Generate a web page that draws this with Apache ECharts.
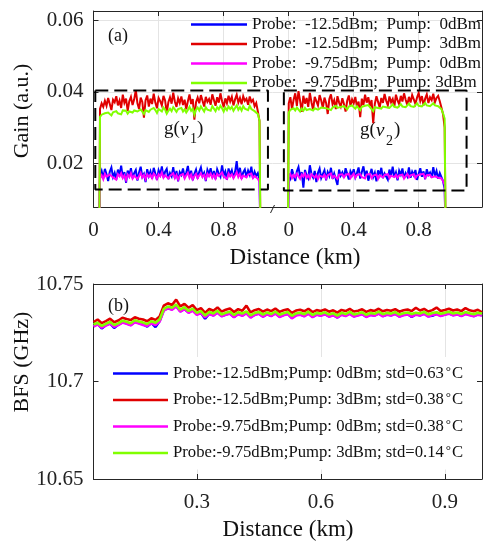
<!DOCTYPE html>
<html><head><meta charset="utf-8">
<script src="https://cdn.jsdelivr.net/npm/echarts@6/dist/echarts.min.js"></script>
<style>html,body{margin:0;padding:0;background:#fff}#c{width:483px;height:544px}</style>
</head><body><div id="c"></div>
<script>
const FONT = '"Liberation Serif", "Times New Roman", serif';
const colors = ['#0000ff', '#e00000', '#ff00ff', '#80ff00'];
const namesA = ['Probe:  -12.5dBm;  Pump:  0dBm', 'Probe:  -12.5dBm;  Pump:  3dBm', 'Probe:  -9.75dBm;  Pump:  0dBm', 'Probe:  -9.75dBm;  Pump: 3dBm'];
const namesB = ['Probe:-12.5dBm;Pump: 0dBm; std=0.63°C', 'Probe:-12.5dBm;Pump: 3dBm; std=0.38°C', 'Probe:-9.75dBm;Pump: 0dBm; std=0.38°C', 'Probe:-9.75dBm;Pump: 3dBm; std=0.14°C'];

// sampling grid (km)
const distSeg1 = Array.from({length: 99}, (_, i) => +(0.04 + 0.01 * i).toFixed(2));
const distSeg2 = Array.from({length: 97}, (_, i) => +(0.00 + 0.01 * i).toFixed(2));
const distB = Array.from({length: 95}, (_, i) => +(0.05 + 0.01 * i).toFixed(2));
const seg1Ends = [0.036, 1.026];
const seg2Ends = [-0.005, 0.966];

// (a) gain, segment 1
const gainBlue1 = [.0165,.0178,.0157,.0184,.0169,.0150,.0176,.0188,.0161,.0173,
.0154,.0182,.0167,.0193,.0159,.0175,.0145,.0179,.0166,.0186,
.0158,.0172,.0181,.0151,.0174,.0190,.0162,.0170,.0147,.0183,
.0164,.0177,.0156,.0187,.0171,.0153,.0180,.0168,.0191,.0160,
.0176,.0184,.0155,.0172,.0163,.0189,.0158,.0178,.0149,.0175,
.0167,.0185,.0159,.0174,.0192,.0161,.0179,.0152,.0170,.0182,
.0157,.0176,.0188,.0164,.0173,.0150,.0181,.0169,.0186,.0160,
.0178,.0155,.0183,.0171,.0162,.0194,.0166,.0177,.0153,.0185,
.0168,.0180,.0159,.0175,.0206,.0163,.0187,.0156,.0174,.0182,
.0161,.0179,.0167,.0190,.0158,.0176,.0164,.0172,.0155];
const gainRed1 = [.0352,.0368,.0358,.0375,.0361,.0383,.0366,.0349,.0378,.0371,
.0388,.0362,.0376,.0355,.0392,.0369,.0381,.0347,.0374,.0386,
.0363,.0379,.0405,.0368,.0352,.0384,.0372,.0328,.0377,.0390,
.0359,.0381,.0366,.0395,.0370,.0354,.0383,.0374,.0362,.0389,
.0376,.0341,.0371,.0385,.0367,.0398,.0373,.0358,.0382,.0369,
.0387,.0363,.0378,.0351,.0374,.0393,.0366,.0380,.0322,.0371,
.0384,.0368,.0391,.0375,.0359,.0386,.0372,.0380,.0364,.0393,
.0377,.0361,.0385,.0370,.0396,.0374,.0357,.0382,.0368,.0389,
.0373,.0386,.0362,.0379,.0392,.0370,.0383,.0365,.0388,.0375,
.0381,.0364,.0387,.0372,.0378,.0360,.0369,.0345,.0318];
const gainMag1 = [.0158,.0166,.0155,.0170,.0162,.0157,.0168,.0173,.0160,.0165,
.0154,.0169,.0163,.0172,.0158,.0166,.0153,.0168,.0161,.0172,
.0157,.0165,.0170,.0156,.0164,.0173,.0160,.0167,.0155,.0169,
.0162,.0168,.0158,.0171,.0165,.0156,.0169,.0163,.0174,.0159,
.0166,.0171,.0157,.0164,.0160,.0172,.0158,.0167,.0154,.0165,
.0161,.0170,.0157,.0166,.0173,.0159,.0168,.0155,.0164,.0170,
.0158,.0166,.0172,.0161,.0167,.0156,.0170,.0163,.0171,.0159,
.0168,.0157,.0170,.0164,.0160,.0174,.0162,.0167,.0156,.0171,
.0163,.0169,.0158,.0166,.0175,.0161,.0170,.0157,.0165,.0169,
.0160,.0168,.0163,.0171,.0158,.0164,.0160,.0156,.0148];
const gainGreen1 = [.0330,.0336,.0333,.0340,.0335,.0342,.0338,.0334,.0343,.0339,
.0346,.0340,.0344,.0337,.0348,.0343,.0347,.0339,.0345,.0350,
.0342,.0348,.0353,.0345,.0340,.0351,.0347,.0338,.0349,.0354,
.0344,.0350,.0346,.0355,.0349,.0341,.0352,.0348,.0345,.0356,
.0350,.0339,.0347,.0353,.0346,.0357,.0351,.0344,.0352,.0348,
.0355,.0345,.0351,.0342,.0349,.0358,.0347,.0353,.0336,.0350,
.0356,.0348,.0359,.0352,.0345,.0357,.0350,.0354,.0347,.0360,
.0353,.0346,.0357,.0351,.0361,.0354,.0345,.0356,.0349,.0359,
.0352,.0358,.0347,.0355,.0362,.0350,.0357,.0348,.0360,.0353,
.0358,.0349,.0361,.0352,.0356,.0346,.0350,.0338,.0320];
// (a) gain, segment 2
const gainBlue2 = [.0170,.0158,.0183,.0166,.0150,.0177,.0189,.0162,.0175,.0131,
.0181,.0165,.0157,.0194,.0170,.0160,.0178,.0147,.0173,.0185,
.0158,.0169,.0180,.0152,.0175,.0164,.0187,.0156,.0171,.0168,
.0139,.0182,.0165,.0174,.0159,.0186,.0170,.0154,.0177,.0167,
.0183,.0160,.0172,.0188,.0157,.0175,.0191,.0163,.0179,.0151,
.0168,.0184,.0161,.0173,.0149,.0180,.0166,.0187,.0158,.0171,
.0176,.0154,.0182,.0165,.0190,.0161,.0174,.0152,.0179,.0168,
.0185,.0157,.0172,.0163,.0188,.0159,.0176,.0166,.0181,.0153,
.0170,.0186,.0162,.0177,.0155,.0183,.0167,.0174,.0160,.0189,
.0164,.0178,.0156,.0172,.0168,.0150,.0128];
const gainRed2 = [.0368,.0385,.0352,.0378,.0396,.0361,.0402,.0375,.0344,.0389,
.0367,.0383,.0358,.0397,.0371,.0349,.0386,.0374,.0362,.0391,
.0376,.0355,.0384,.0369,.0338,.0380,.0393,.0365,.0377,.0352,
.0388,.0370,.0359,.0382,.0366,.0345,.0375,.0390,.0361,.0379,
.0368,.0386,.0357,.0373,.0329,.0381,.0364,.0392,.0370,.0385,
.0360,.0377,.0312,.0366,.0388,.0372,.0356,.0383,.0369,.0394,
.0375,.0362,.0387,.0371,.0380,.0358,.0392,.0376,.0365,.0389,
.0373,.0396,.0378,.0363,.0386,.0370,.0391,.0379,.0366,.0384,
.0397,.0374,.0388,.0362,.0381,.0393,.0369,.0385,.0377,.0395,
.0371,.0383,.0389,.0374,.0356,.0338,.0300];
const gainMag2 = [.0162,.0169,.0158,.0167,.0161,.0170,.0165,.0156,.0168,.0162,
.0171,.0159,.0166,.0157,.0169,.0164,.0160,.0167,.0155,.0165,
.0170,.0161,.0168,.0157,.0166,.0163,.0171,.0159,.0165,.0162,
.0156,.0168,.0164,.0169,.0160,.0167,.0162,.0170,.0158,.0165,
.0171,.0159,.0167,.0163,.0169,.0161,.0166,.0157,.0168,.0164,
.0170,.0158,.0165,.0161,.0168,.0156,.0166,.0171,.0160,.0167,
.0163,.0169,.0158,.0165,.0170,.0161,.0167,.0159,.0166,.0162,
.0168,.0157,.0164,.0170,.0160,.0166,.0163,.0169,.0158,.0165,
.0161,.0168,.0164,.0170,.0159,.0166,.0162,.0167,.0160,.0165,
.0163,.0168,.0159,.0162,.0157,.0150,.0140];
const gainGreen2 = [.0342,.0350,.0346,.0354,.0348,.0356,.0351,.0345,.0353,.0347,
.0355,.0349,.0344,.0352,.0357,.0348,.0354,.0359,.0350,.0346,
.0356,.0351,.0355,.0360,.0353,.0358,.0349,.0356,.0352,.0361,
.0355,.0350,.0358,.0354,.0360,.0356,.0351,.0359,.0355,.0362,
.0357,.0353,.0360,.0356,.0349,.0358,.0354,.0361,.0356,.0363,
.0358,.0352,.0346,.0357,.0362,.0355,.0360,.0353,.0359,.0364,
.0357,.0362,.0355,.0360,.0365,.0358,.0363,.0356,.0361,.0366,
.0359,.0364,.0357,.0362,.0367,.0360,.0365,.0358,.0363,.0368,
.0361,.0366,.0359,.0364,.0369,.0362,.0367,.0360,.0365,.0368,
.0362,.0366,.0360,.0358,.0352,.0340,.0325];

// (b) BFS (GHz)
const bfsBlue = [10.7284,10.7296,10.7272,10.7290,10.7298,10.7275,10.7292,10.7305,10.7298,10.7290,
10.7306,10.7300,10.7293,10.7282,10.7301,10.7279,10.7310,10.7366,10.7376,10.7370,
10.7388,10.7360,10.7372,10.7355,10.7366,10.7345,10.7352,10.7322,10.7348,10.7340,
10.7355,10.7336,10.7344,10.7350,10.7331,10.7347,10.7339,10.7352,10.7330,10.7343,
10.7349,10.7334,10.7346,10.7337,10.7351,10.7333,10.7342,10.7348,10.7327,10.7341,
10.7345,10.7336,10.7350,10.7332,10.7344,10.7339,10.7347,10.7334,10.7342,10.7329,
10.7344,10.7338,10.7349,10.7335,10.7341,10.7347,10.7333,10.7343,10.7339,10.7350,
10.7336,10.7344,10.7340,10.7348,10.7334,10.7342,10.7346,10.7331,10.7345,10.7340,
10.7349,10.7335,10.7337,10.7347,10.7338,10.7344,10.7350,10.7341,10.7346,10.7337,
10.7348,10.7342,10.7336,10.7345,10.7340];
const bfsRed = [10.7305,10.7318,10.7299,10.7310,10.7322,10.7304,10.7313,10.7327,10.7320,10.7315,
10.7329,10.7322,10.7318,10.7309,10.7324,10.7316,10.7334,10.7389,10.7401,10.7392,
10.7420,10.7385,10.7398,10.7378,10.7392,10.7366,10.7376,10.7352,10.7372,10.7363,
10.7380,10.7358,10.7368,10.7374,10.7356,10.7371,10.7363,10.7389,10.7354,10.7366,
10.7372,10.7358,10.7369,10.7361,10.7374,10.7357,10.7365,10.7371,10.7352,10.7364,
10.7368,10.7360,10.7373,10.7356,10.7366,10.7362,10.7370,10.7358,10.7365,10.7353,
10.7367,10.7361,10.7372,10.7359,10.7363,10.7370,10.7357,10.7366,10.7362,10.7373,
10.7360,10.7367,10.7363,10.7371,10.7358,10.7365,10.7369,10.7361,10.7378,10.7364,
10.7372,10.7359,10.7366,10.7379,10.7362,10.7367,10.7373,10.7364,10.7369,10.7361,
10.7376,10.7365,10.7360,10.7368,10.7355];
const bfsMag = [10.7281,10.7293,10.7276,10.7287,10.7296,10.7281,10.7289,10.7302,10.7296,10.7288,
10.7304,10.7297,10.7290,10.7285,10.7298,10.7290,10.7308,10.7363,10.7375,10.7368,
10.7386,10.7358,10.7371,10.7352,10.7364,10.7342,10.7351,10.7329,10.7346,10.7338,
10.7353,10.7334,10.7342,10.7348,10.7330,10.7345,10.7337,10.7350,10.7327,10.7341,
10.7347,10.7332,10.7344,10.7335,10.7349,10.7331,10.7340,10.7346,10.7324,10.7338,
10.7343,10.7334,10.7348,10.7330,10.7342,10.7337,10.7345,10.7332,10.7340,10.7328,
10.7342,10.7336,10.7347,10.7333,10.7339,10.7345,10.7331,10.7341,10.7337,10.7348,
10.7334,10.7342,10.7338,10.7346,10.7332,10.7340,10.7344,10.7333,10.7343,10.7338,
10.7347,10.7333,10.7341,10.7345,10.7336,10.7342,10.7348,10.7339,10.7344,10.7335,
10.7346,10.7340,10.7334,10.7343,10.7338];
const bfsGreen = [10.7292,10.7301,10.7285,10.7296,10.7305,10.7290,10.7298,10.7312,10.7306,10.7299,
10.7314,10.7308,10.7302,10.7295,10.7309,10.7301,10.7318,10.7372,10.7384,10.7378,
10.7395,10.7368,10.7381,10.7362,10.7374,10.7352,10.7361,10.7338,10.7356,10.7349,
10.7363,10.7344,10.7352,10.7358,10.7341,10.7355,10.7348,10.7360,10.7339,10.7351,
10.7357,10.7343,10.7354,10.7346,10.7359,10.7342,10.7350,10.7356,10.7337,10.7349,
10.7353,10.7345,10.7358,10.7341,10.7352,10.7347,10.7355,10.7343,10.7350,10.7338,
10.7352,10.7346,10.7357,10.7344,10.7349,10.7355,10.7342,10.7351,10.7347,10.7358,
10.7345,10.7352,10.7348,10.7356,10.7343,10.7350,10.7354,10.7346,10.7353,10.7349,
10.7357,10.7344,10.7351,10.7355,10.7347,10.7352,10.7358,10.7349,10.7354,10.7346,
10.7356,10.7350,10.7345,10.7353,10.7348];

// dashed boxes (data units)
const box1X = [0.011, 1.072, 1.072, 0.011, 0.011];
const box1Y = [0.0404, 0.0404, 0.0126, 0.0126, 0.0404];
const box2X = [-0.03, 1.095, 1.095, -0.03, -0.03];
const box2Y = [0.0404, 0.0404, 0.0123, 0.0123, 0.0404];

const gainTicks = [0.02, 0.04, 0.06];
const distTicksA = [0, 0.4, 0.8];
const distTicksB = [0.3, 0.6, 0.9];

const AX = '#262626';
const GRIDC = '#e4e4e4';
const labelStyle = {fontFamily: FONT, fontSize: 21, color: '#222'};

function seg(name, xs, ys, ends, xi, yi, color) {
  const data = [[ends[0], 0]].concat(xs.map((x, i) => [x, ys[i]])).concat([[ends[1], 0]]);
  return {name, type: 'line', xAxisIndex: xi, yAxisIndex: yi, data, symbol: 'none', showSymbol: false,
    color, lineStyle: {width: 2, color, join: 'miter', miterLimit: 4}, clip: true, animation: false, silent: true};
}
function lineB(name, ys, color) {
  return {name, type: 'line', xAxisIndex: 4, yAxisIndex: 2, data: distB.map((x, i) => [x, ys[i]]), symbol: 'none',
    showSymbol: false, color, lineStyle: {width: 2.6, color}, clip: true, animation: false, silent: true};
}
function box(xs, ys, xi, yi) {
  return {type: 'line', xAxisIndex: xi, yAxisIndex: yi, data: xs.map((x, i) => [x, ys[i]]), symbol: 'none',
    lineStyle: {width: 2, color: '#000', type: [13, 6]}, animation: false, silent: true, z: 5};
}

const gainA1 = [gainBlue1, gainRed1, gainMag1, gainGreen1];
const gainA2 = [gainBlue2, gainRed2, gainMag2, gainGreen2];
const bfsAll = [bfsBlue, bfsRed, bfsMag, bfsGreen];

const series = [];
for (let k = 0; k < 4; k++) {
  series.push(seg(namesA[k], distSeg1, gainA1[k], seg1Ends, 0, 0, colors[k]));
  series.push(seg(namesA[k], distSeg2, gainA2[k], seg2Ends, 1, 1, colors[k]));
}
for (let k = 0; k < 4; k++) series.push(lineB(namesB[k], bfsAll[k], colors[k]));
series.push(box(box1X, box1Y, 0, 0));
series.push(box(box2X, box2Y, 1, 1));

function xAx(grid, min, max, ticks, pos, labels, split) {
  return {type: 'value', gridIndex: grid, min, max, position: pos,
    axisLine: {show: true, onZero: false, lineStyle: {color: AX, width: 1}},
    axisTick: {show: true, inside: true, length: 5, customValues: ticks, lineStyle: {color: AX}},
    axisLabel: {show: labels, customValues: ticks, margin: 13, ...labelStyle},
    splitLine: {show: split, lineStyle: {color: GRIDC, width: 1}}};
}
function yAx(grid, min, max, ticks, pos, labels, split, interval) {
  const o = {type: 'value', gridIndex: grid, min, max, position: pos,
    axisLine: {show: true, onZero: false, lineStyle: {color: AX, width: 1}},
    axisTick: {show: true, inside: true, length: 5, lineStyle: {color: AX}},
    axisLabel: {show: labels, margin: 10, ...labelStyle},
    splitLine: {show: split, lineStyle: {color: GRIDC, width: 1}}};
  if (ticks) { o.axisTick.customValues = ticks; o.axisLabel.customValues = ticks; }
  if (interval) o.interval = interval;
  return o;
}

const option = {
  backgroundColor: '#fff',
  animation: false,
  grid: [
    {left: 93.5, top: 11, width: 179, height: 196},
    {left: 272.5, top: 11, width: 209.5, height: 196},
    {left: 93.5, top: 284, width: 388.5, height: 195}
  ],
  xAxis: [
    xAx(0, 0, 1.1, distTicksA, 'bottom', true, true),
    xAx(1, -0.1, 1.19, distTicksA, 'bottom', true, true),
    xAx(0, 0, 1.1, distTicksA, 'top', false, false),
    xAx(1, -0.1, 1.19, distTicksA, 'top', false, false),
    xAx(2, 0.05, 0.99, distTicksB, 'bottom', true, true),
    xAx(2, 0.05, 0.99, distTicksB, 'top', false, false)
  ],
  yAxis: [
    yAx(0, 0.0077, 0.0627, gainTicks, 'left', true, true),
    yAx(1, 0.0077, 0.0627, gainTicks, 'right', false, true),
    yAx(2, 10.65, 10.75, null, 'left', true, false, 0.05),
    yAx(2, 10.65, 10.75, null, 'right', false, false, 0.05)
  ],
  legend: [
    {data: namesA, orient: 'vertical', left: 191, top: 16, padding: 0, itemGap: 2.5,
      icon: 'rect', itemWidth: 56, itemHeight: 2.5, selectedMode: false,
      textStyle: {fontFamily: FONT, fontSize: 17, color: '#111', lineHeight: 17}},
    {data: namesB, orient: 'vertical', left: 103, top: 357, padding: [8, 10, 8, 10], itemGap: 9.5,
      backgroundColor: '#fff', icon: 'rect', itemWidth: 55, itemHeight: 2.5, selectedMode: false,
      formatter: n => n.replace('°C', '{sup|°}C'),
      textStyle: {fontFamily: FONT, fontSize: 16.7, color: '#111', lineHeight: 17,
        rich: {sup: {fontFamily: FONT, fontSize: 13, verticalAlign: 'top', padding: [0, 1, 0, 2], lineHeight: 17}}}}
  ],
  graphic: [
    {type: 'text', left: 108, top: 27, style: {text: '(a)', font: '18px ' + FONT, fill: '#111'}},
    {type: 'text', left: 108, top: 297, style: {text: '(b)', font: '18px ' + FONT, fill: '#111'}},
    {type: 'text', left: 164, top: 120, style: {text: 'g(', font: '19px ' + FONT, fill: '#111'}},
    {type: 'text', left: 180, top: 120, style: {text: 'ν', font: 'italic 19px ' + FONT, fill: '#111'}},
    {type: 'text', left: 190, top: 132, style: {text: '1', font: '14px ' + FONT, fill: '#111'}},
    {type: 'text', left: 197, top: 120, style: {text: ')', font: '19px ' + FONT, fill: '#111'}},
    {type: 'text', left: 360, top: 121, style: {text: 'g(', font: '19px ' + FONT, fill: '#111'}},
    {type: 'text', left: 376, top: 121, style: {text: 'ν', font: 'italic 19px ' + FONT, fill: '#111'}},
    {type: 'text', left: 386, top: 134, style: {text: '2', font: '14px ' + FONT, fill: '#111'}},
    {type: 'text', left: 394, top: 121, style: {text: ')', font: '19px ' + FONT, fill: '#111'}},
    {type: 'line', shape: {x1: 270.5, y1: 213, x2: 274.5, y2: 205}, style: {stroke: '#222', lineWidth: 1}},
    {type: 'text', x: 295, y: 258, style: {text: 'Distance (km)', font: '23px ' + FONT, fill: '#111', textAlign: 'center', textVerticalAlign: 'middle'}},
    {type: 'text', x: 288, y: 530, style: {text: 'Distance (km)', font: '23px ' + FONT, fill: '#111', textAlign: 'center', textVerticalAlign: 'middle'}},
    {type: 'text', x: 22, y: 111, rotation: Math.PI / 2, style: {text: 'Gain (a.u.)', font: '22px ' + FONT, fill: '#111', textAlign: 'center', textVerticalAlign: 'middle'}},
    {type: 'text', x: 22, y: 362, rotation: Math.PI / 2, style: {text: 'BFS (GHz)', font: '22px ' + FONT, fill: '#111', textAlign: 'center', textVerticalAlign: 'middle'}}
  ],
  series
};
const chart = echarts.init(document.getElementById('c'), null, {renderer: 'canvas'});
chart.setOption(option);
</script></body></html>
